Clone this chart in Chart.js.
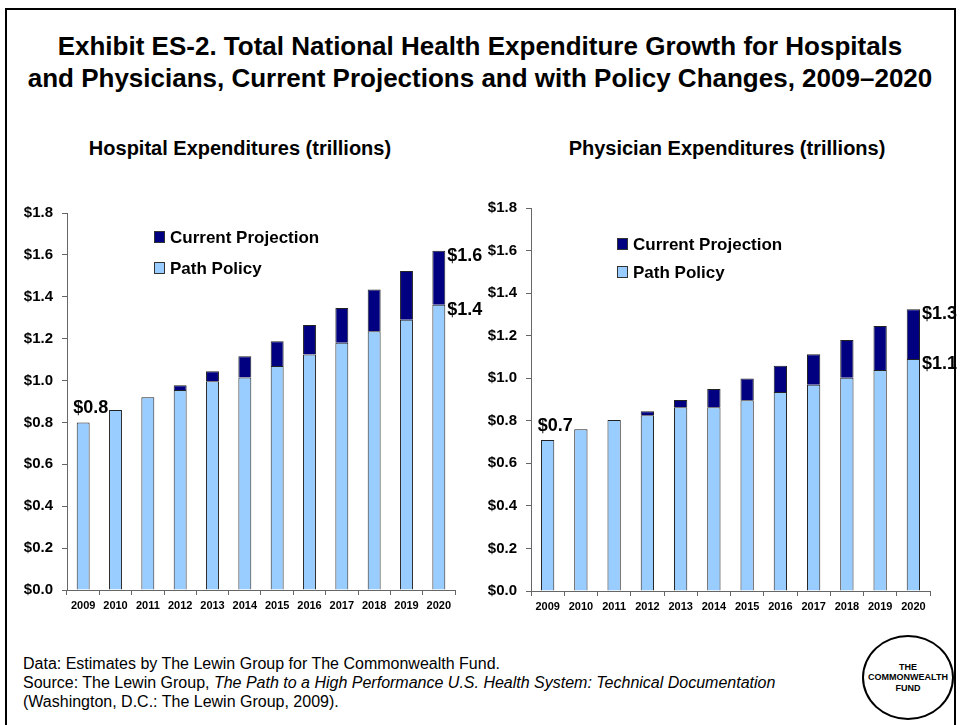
<!DOCTYPE html>
<html>
<head>
<meta charset="utf-8">
<title>Exhibit ES-2</title>
<script src="https://cdn.jsdelivr.net/npm/chart.js@4.4.1/dist/chart.umd.min.js"></script>
<style>
  body { margin: 0; width: 960px; height: 725px; overflow: hidden; background: #fff; position: relative;
         font-family: "Liberation Sans", Arial, sans-serif; color: #000; }
  .frame { position: absolute; left: 5px; top: 8px; width: 951px; height: 800px; border: 2px solid #000; box-sizing: border-box; }
  .title { position: absolute; left: 0; top: 30px; width: 960px; text-align: center; font-weight: bold; font-size: 26px; line-height: 32px; }
  .sub { position: absolute; top: 136px; font-weight: bold; font-size: 20px; line-height: 24px; white-space: nowrap; transform: translateX(-50%); }
  canvas { position: absolute; }
  .notes { position: absolute; left: 23px; top: 654px; font-size: 16px; line-height: 19px; }
  .logo { position: absolute; left: 862px; top: 635px; width: 92px; height: 85px; border: 2px solid #000; border-radius: 50%;
          box-sizing: border-box; display: flex; align-items: center; justify-content: center; text-align: center;
          font-weight: bold; font-size: 9px; line-height: 10.5px; }
</style>
</head>
<body>
<div class="frame"></div>
<div class="title">Exhibit ES-2. Total National Health Expenditure Growth for Hospitals<br>and Physicians, Current Projections and with Policy Changes, 2009–2020</div>
<div class="sub" style="left:240px">Hospital Expenditures (trillions)</div>
<div class="sub" style="left:727px">Physician Expenditures (trillions)</div>

<canvas id="hospitalChart" width="490" height="430" style="left:10px; top:195px"></canvas>
<canvas id="physicianChart" width="480" height="436" style="left:480px; top:190px"></canvas>

<div class="notes">
  Data: Estimates by The Lewin Group for The Commonwealth Fund.<br>
  Source: The Lewin Group, <i>The Path to a High Performance U.S. Health System: Technical Documentation</i><br>
  (Washington, D.C.: The Lewin Group, 2009).
</div>
<div class="logo">THE<br>COMMONWEALTH<br>FUND</div>

<script>
// Years on the x axis
const years = ["2009", "2010", "2011", "2012", "2013", "2014", "2015", "2016", "2017", "2018", "2019", "2020"];

// Hospital spending, trillions of dollars
const hospitalPath = [0.80, 0.86, 0.92, 0.955, 0.997, 1.014, 1.069, 1.124, 1.180, 1.235, 1.290, 1.362];
const hospitalCurrent = [0.80, 0.86, 0.92, 0.978, 1.044, 1.116, 1.188, 1.265, 1.346, 1.435, 1.523, 1.62];

// Physician spending, trillions of dollars
const physicianPath = [0.71, 0.76, 0.804, 0.826, 0.863, 0.863, 0.897, 0.935, 0.969, 1.002, 1.039, 1.09];
const physicianCurrent = [0.71, 0.76, 0.804, 0.845, 0.898, 0.949, 0.999, 1.059, 1.113, 1.180, 1.245, 1.324];

// Y axis ticks
const yTicks = [0, 0.2, 0.4, 0.6, 0.8, 1.0, 1.2, 1.4, 1.6, 1.8];

const FONT = '"Liberation Sans", Arial, sans-serif';
const LIGHT = "#99ccff";
const DARK = "#000080";
const AXIS = "#666666";

const money = v => "$" + v.toFixed(1);

// Value labels: first bar on top, last bar on the right of each segment
const valueLabels = {
  id: "valueLabels",
  afterDatasetsDraw(chart) {
    const ctx = chart.ctx;
    const pathBars = chart.getDatasetMeta(0).data;
    const curBars = chart.getDatasetMeta(1).data;
    const pathVals = chart.data.datasets[0].data;
    const curVals = chart.data.datasets[1].data;
    const last = pathVals.length - 1;

    ctx.save();
    ctx.font = "bold 18px " + FONT;
    ctx.fillStyle = "#000";
    ctx.textAlign = "left";
    ctx.textBaseline = "bottom";
    ctx.fillText(money(pathVals[0]), pathBars[0].x - 10, pathBars[0].y - 5);

    ctx.textBaseline = "middle";
    const x = curBars[last].x + curBars[last].width / 2 + 2;
    ctx.fillText(money(curVals[last][1]), x, curBars[last].y + 5);
    ctx.fillText(money(pathVals[last]), x, pathBars[last].y + 5);
    ctx.restore();
  }
};

// Legend inside the plot, dark series listed first
const boxLegend = {
  id: "boxLegend",
  afterDraw(chart, args, opts) {
    const ctx = chart.ctx;
    const area = chart.chartArea;
    const items = chart.data.datasets.slice().reverse();
    ctx.save();
    ctx.font = "bold 17px " + FONT;
    ctx.textBaseline = "middle";
    items.forEach((ds, i) => {
      const bx = area.left + opts.dx;
      const cy = area.top + opts.dy + i * opts.gap;
      ctx.fillStyle = ds.backgroundColor;
      ctx.fillRect(bx, cy - 6, 11, 12);
      ctx.strokeStyle = "#333";
      ctx.lineWidth = 1;
      ctx.strokeRect(bx + 0.5, cy - 5.5, 10, 11);
      ctx.fillStyle = "#000";
      ctx.fillText(ds.label, bx + 16, cy + 1);
    });
    ctx.restore();
  }
};

function makeChart(id, path, current, axisWidth, padding, legendPos) {
  const ctx = document.getElementById(id).getContext("2d");
  return new Chart(ctx, {
    type: "bar",
    data: {
      labels: years,
      datasets: [
        {
          label: "Path Policy",
          data: path,
          backgroundColor: LIGHT,
          borderColor: "#222",
          borderWidth: 1,
          grouped: false,
          barPercentage: 0.4,
          categoryPercentage: 1
        },
        {
          label: "Current Projection",
          // floating segment from the policy value up to the current projection
          data: current.map((v, i) => (v > path[i] ? [path[i], v] : null)),
          backgroundColor: DARK,
          borderColor: "#222",
          borderWidth: 1,
          grouped: false,
          barPercentage: 0.4,
          categoryPercentage: 1
        }
      ]
    },
    options: {
      responsive: false,
      animation: false,
      devicePixelRatio: 1,
      layout: { padding: padding },
      plugins: {
        legend: { display: false },
        tooltip: { enabled: false },
        boxLegend: legendPos
      },
      scales: {
        x: {
          offset: true,
          grid: { offset: true, drawOnChartArea: false, tickLength: 5, color: AXIS },
          border: { color: AXIS, width: 1 },
          ticks: { color: "#000", font: { family: FONT, size: 11, weight: "bold" }, padding: 4, maxRotation: 0 },
          afterFit: s => { s.height = 35; }
        },
        y: {
          min: 0,
          max: 1.8,
          afterBuildTicks: s => { s.ticks = yTicks.map(v => ({ value: v })); },
          grid: { drawOnChartArea: false, tickLength: 5, color: AXIS },
          border: { color: AXIS, width: 1 },
          ticks: { color: "#000", font: { family: FONT, size: 15, weight: "bold" }, padding: 9, callback: v => money(v) },
          afterFit: s => { s.width = axisWidth; }
        }
      }
    },
    plugins: [valueLabels, boxLegend]
  });
}

makeChart("hospitalChart", hospitalPath, hospitalCurrent, 57,
  { top: 12, right: 45, left: 0, bottom: 0 }, { dx: 87, dy: 24, gap: 31 });
makeChart("physicianChart", physicianPath, physicianCurrent, 51,
  { top: 12, right: 30, left: 0, bottom: 0 }, { dx: 86, dy: 36, gap: 28 });
</script>
</body>
</html>
